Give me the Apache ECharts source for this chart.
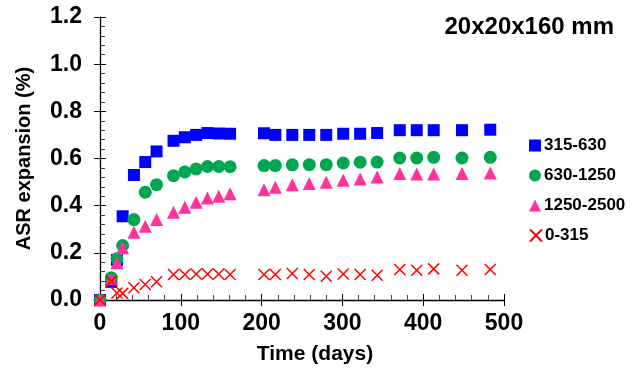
<!DOCTYPE html>
<html>
<head>
<meta charset="utf-8">
<script src="https://cdn.jsdelivr.net/npm/echarts@6/dist/echarts.min.js"></script>
<style>
  html, body { margin: 0; padding: 0; background: #fff; }
  #chart { width: 632px; height: 375px; }
</style>
</head>
<body>
<div id="chart"></div>
<script>
// Measurement ages (days)
const days = [0, 14, 21, 28, 42, 56, 70, 91, 105, 119, 133, 147, 161,
              203, 217, 238, 259, 280, 301, 322, 343, 371, 392, 413, 448, 483];

// ASR expansion (%) per aggregate size fraction
const frac315_630 = [0, 0.077, 0.17, 0.355, 0.53, 0.585, 0.63, 0.675, 0.69, 0.70, 0.708, 0.706, 0.705,
                     0.707, 0.70, 0.70, 0.70, 0.70, 0.705, 0.705, 0.708, 0.72, 0.72, 0.72, 0.72, 0.722];
const frac630_1250 = [0, 0.094, 0.175, 0.231, 0.341, 0.457, 0.489, 0.527, 0.543, 0.556, 0.566, 0.566, 0.565,
                      0.57, 0.57, 0.573, 0.574, 0.574, 0.581, 0.584, 0.585, 0.602, 0.602, 0.605, 0.602, 0.605];
const frac1250_2500 = [0, 0.09, 0.158, 0.222, 0.287, 0.313, 0.341, 0.372, 0.393, 0.414, 0.433, 0.44, 0.451,
                       0.468, 0.478, 0.489, 0.494, 0.499, 0.508, 0.513, 0.522, 0.536, 0.534, 0.534, 0.536, 0.539];
const frac0_315 = [0, 0.08, 0.03, 0.028, 0.052, 0.066, 0.077, 0.108, 0.108, 0.11, 0.11, 0.11, 0.108,
                   0.108, 0.108, 0.112, 0.108, 0.101, 0.11, 0.108, 0.105, 0.129, 0.126, 0.132, 0.126, 0.129];

const seriesNames = ['315-630', '630-1250', '1250-2500', '0-315'];
const chartTitle = '20x20x160 mm';
const xName = 'Time (days)';
const yName = 'ASR expansion (%)';

const FONT = '"Liberation Sans", Arial, Helvetica, sans-serif';
const pairs = arr => days.map((d, i) => [d, arr[i]]);
const CROSS = 'path://M0,0L10,10M10,0L0,10';

const chart = echarts.init(document.getElementById('chart'), null, { renderer: 'canvas' });

const baseText = { color: '#000', fontFamily: FONT, fontWeight: 'bold' };

function legendAt(name, top) {
  return {
    data: [name], orient: 'vertical', left: 529, top: top, padding: 0,
    itemWidth: 12, itemHeight: 12, selectedMode: false,
    textStyle: Object.assign({ fontSize: 17, padding: [0, 0, 0, -2] }, baseText)
  };
}

const option = {
  backgroundColor: '#fff',
  animation: false,
  title: {
    text: chartTitle, right: 13, top: 10,
    textStyle: Object.assign({ fontSize: 24 }, baseText)
  },
  legend: [
    legendAt(seriesNames[0], 137),
    legendAt(seriesNames[1], 167),
    legendAt(seriesNames[2], 197),
    legendAt(seriesNames[3], 227)
  ],
  grid: { left: 100, top: 17, width: 404, height: 283, containLabel: false },
  xAxis: [
    {
      type: 'value', min: 0, max: 500, interval: 100,
      name: xName, nameLocation: 'middle', nameGap: 44,
      nameTextStyle: Object.assign({ fontSize: 21, padding: [0, 0, 0, 26] }, baseText),
      axisLine: { lineStyle: { color: '#000', width: 1.3 } },
      axisTick: { inside: true, length: 6, lineStyle: { color: '#000', width: 1 } },
      minorTick: { show: true, splitNumber: 5, length: 5, lineStyle: { color: '#444', width: 1 } },
      axisLabel: Object.assign({ fontSize: 23, margin: 12 }, baseText),
      splitLine: { show: false }
    },
    {
      type: 'value', min: 0, max: 500, interval: 100, position: 'bottom',
      axisLine: { show: false },
      axisTick: { length: 6, lineStyle: { color: '#000', width: 1 } },
      axisLabel: { show: false }, splitLine: { show: false }
    }
  ],
  yAxis: [
    {
      type: 'value', min: 0, max: 1.2, interval: 0.2,
      name: yName, nameLocation: 'middle', nameGap: 66, nameRotate: 90,
      nameTextStyle: Object.assign({ fontSize: 20 }, baseText),
      axisLine: { show: true, lineStyle: { color: '#000', width: 1.3 } },
      axisTick: { show: true, inside: true, length: 6, lineStyle: { color: '#000', width: 1 } },
      minorTick: { show: true, splitNumber: 5, length: 5, lineStyle: { color: '#444', width: 1 } },
      axisLabel: Object.assign({ fontSize: 23, margin: 18, formatter: v => v.toFixed(1) }, baseText),
      splitLine: { show: false }
    },
    {
      type: 'value', min: 0, max: 1.2, interval: 0.2, position: 'left',
      axisLine: { show: false },
      axisTick: { show: true, length: 6, lineStyle: { color: '#000', width: 1 } },
      axisLabel: { show: false }, splitLine: { show: false }
    }
  ],
  series: [
    {
      name: seriesNames[0], type: 'scatter', symbol: 'rect', symbolSize: 12,
      itemStyle: { color: '#0000FF', opacity: 1 }, data: pairs(frac315_630)
    },
    {
      name: seriesNames[1], type: 'scatter', symbol: 'circle', symbolSize: 13,
      itemStyle: { color: '#00A651', opacity: 1 }, data: pairs(frac630_1250)
    },
    {
      name: seriesNames[2], type: 'scatter', symbol: 'triangle', symbolSize: 13,
      itemStyle: { color: '#FF3399', opacity: 1 }, data: pairs(frac1250_2500)
    },
    {
      name: seriesNames[3], type: 'scatter', symbol: CROSS, symbolSize: 11,
      itemStyle: { color: 'rgba(0,0,0,0)', borderColor: '#FF0000', borderWidth: 1.5, opacity: 1 },
      data: pairs(frac0_315)
    }
  ]
};

chart.setOption(option);
</script>
</body>
</html>
